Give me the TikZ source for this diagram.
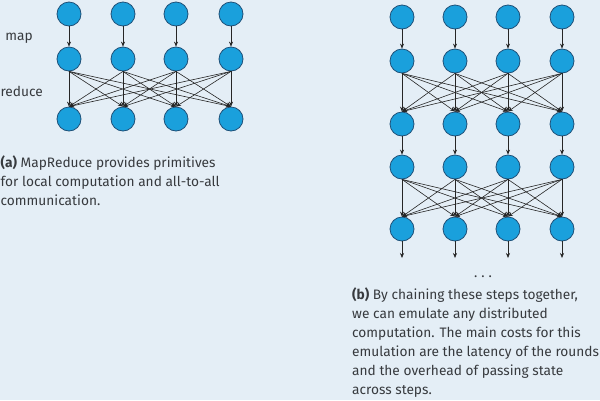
\documentclass[tikz,border=0pt]{standalone}
\usepackage{fontspec}
\setmainfont{Fira Sans}
\usetikzlibrary{arrows.meta}

\definecolor{bgblue}{RGB}{228,238,246}
\definecolor{procfill}{RGB}{26,160,220}
\definecolor{procline}{RGB}{30,80,120}
\definecolor{captext}{RGB}{55,58,62}

\tikzset{
  proc/.style={circle, draw=procline, fill=procfill, line width=0.8pt, minimum size=24pt, inner sep=0pt},
  flow/.style={-{Stealth[length=5pt,width=4pt]}, line width=0.6pt, black!85},
  stage/.style={anchor=east, inner sep=0pt, font=\fontsize{13.7}{15}\selectfont, text=captext},
  caption/.style={anchor=north west, inner sep=0pt, align=left, font=\fontsize{13.7}{18.9}\selectfont, text=captext}
}

\begin{document}
\begin{tikzpicture}[x=1pt,y=-1pt]
    \fill[bgblue] (0,0) rectangle (600,400);
    \useasboundingbox (0,0) rectangle (600,400);

    % (a) one map step and one reduce step
    \foreach \c/\x in {1/69, 2/123, 3/176, 4/231} {
        \foreach \r/\y in {1/14, 2/59, 3/119} {\node[proc] (a\r\c) at (\x,\y) {};}
    }
    \foreach \c in {1, 2, 3, 4} {\draw[flow] (a1\c) -- (a2\c);}
    \foreach \c in {1, 2, 3, 4} {\foreach \d in {1, 2, 3, 4} {\draw[flow] (a2\c.south) -- (a3\d.north);}}

    \node[stage] (maplabel) at (33, 38) {map};
    \node[stage] (reducelabel) at (43, 91) {reduce};
    \node[caption] (capa) at (0.5, 156) {\textbf{(a)} MapReduce provides primitives\\for local computation and all-to-all\\communication.};

    % (b) the same steps chained
    \foreach \c/\x in {1/402, 2/455, 3/508, 4/562} {
        \foreach \r/\y in {1/17, 2/61, 3/124, 4/167, 5/229} {\node[proc] (b\r\c) at (\x,\y) {};}
        \coordinate (out\c) at (\x, 258);
    }
    \foreach \c in {1, 2, 3, 4} {
        \draw[flow] (b1\c) -- (b2\c);
        \draw[flow] (b3\c) -- (b4\c);
        \draw[flow] (b5\c) -- (out\c);
    }
    \foreach \c in {1, 2, 3, 4} {\foreach \d in {1, 2, 3, 4} {
        \draw[flow] (b2\c.south) -- (b3\d.north);
        \draw[flow] (b4\c.south) -- (b5\d.north);
    }}

    \node[stage, anchor=center] (dots) at (483, 277) {.\hspace{4pt}.\hspace{4pt}.};
    \node[caption] (capb) at (352, 288) {\textbf{(b)} By chaining these steps together,\\we can emulate any distributed\\computation. The main costs for this\\emulation are the latency of the rounds\\and the overhead of passing state\\across steps.};
\end{tikzpicture}
\end{document}
